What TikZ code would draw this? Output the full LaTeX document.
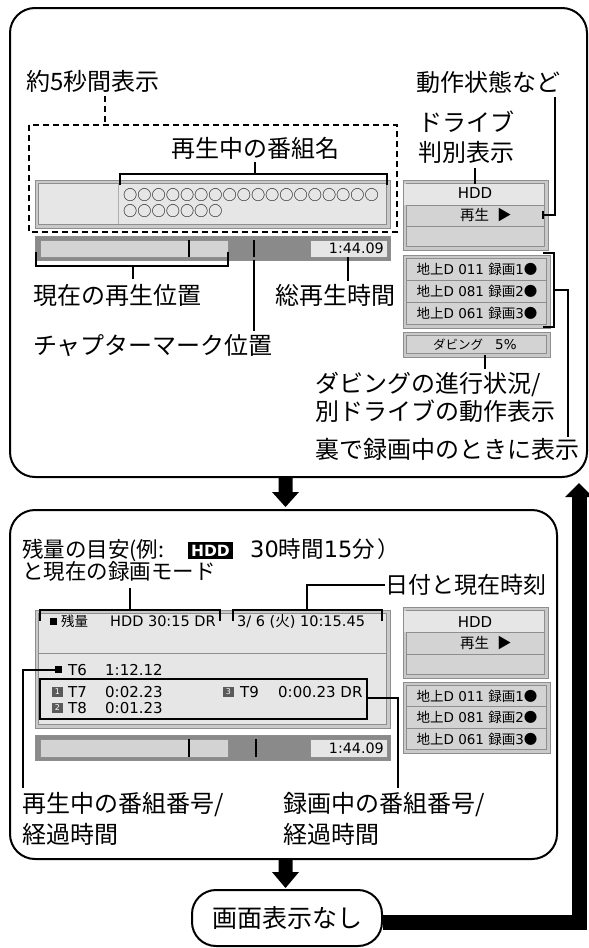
\documentclass[tikz,border=0pt]{standalone}
\usepackage{fontspec}
\setmainfont{Noto Sans CJK JP}
\newfontfamily\lat{DejaVu Sans}
\definecolor{bd}{HTML}{8E8E8E}
\definecolor{band}{HTML}{C9C9C9}
\definecolor{lt}{HTML}{E6E6E6}
\definecolor{md}{HTML}{D3D3D3}
\definecolor{dk}{HTML}{8A8A8A}
\definecolor{badgec}{HTML}{5A5A5A}
\newcommand\mybox[5]{%
  \draw[draw=bd, fill=band, line width=0.8pt] (#1,#2) rectangle (#3,#4);
  \draw[draw=bd, fill=#5, line width=0.8pt] ({#1+3.5},{#2+3.5}) rectangle ({#3-3.5},{#4-3.5});}
\tikzset{
  lbl/.style={inner sep=0pt, anchor=base west, font=\fontsize{24pt}{24pt}\selectfont},
  smj/.style={inner sep=0pt, font=\fontsize{13.5pt}{13.5pt}\selectfont},
  sml/.style={inner sep=0pt, font={\lat\fontsize{15pt}{15pt}\selectfont}},
  brk/.style={line width=2pt, line cap=butt, line join=miter},
  panel/.style={draw=black, line width=2pt, fill=white, rounded corners=25pt, inner sep=0pt},
  badge/.style={fill=badgec, text=white, inner sep=0pt, minimum width=11pt, minimum height=10pt, font={\lat\fontsize{8pt}{8pt}\selectfont}},
  sq/.style={fill=black, inner sep=0pt, minimum size=7pt},
}
\begin{document}
\begin{tikzpicture}[x=1pt,y=-1pt]
\useasboundingbox (0,0) rectangle (589,948);
\fill[white] (0,0) rectangle (589,948);

% ---------------- panels ----------------
\node[panel, minimum width=577pt, minimum height=469pt] (ptop) at (298.5,242.5) {};
\node[panel, minimum width=547pt, minimum height=349pt] (pbot) at (283.5,684.5) {};

% arrows between panels
\fill (278.5,477) -- (292.5,477) -- (292.5,492) -- (299,492) -- (285.5,507) -- (272,492) -- (278.5,492) -- cycle;
\fill (278.5,858) -- (292.5,858) -- (292.5,872) -- (299,872) -- (285.5,888) -- (272,872) -- (278.5,872) -- cycle;

\node[draw, line width=2pt, rounded corners=24pt, minimum width=190pt, minimum height=56pt, inner sep=0pt,
      font=\fontsize{25pt}{25pt}\selectfont, fill=white] (none) at (287,918) {画面表示なし};
\draw[line width=15pt, line join=miter] ([yshift=-4.5pt]none.east) -- (579,922.5) -- (579,496);
\fill (565,497) -- (579,483) -- (593,497) -- cycle;

% ---------------- top panel ----------------
\node[lbl] (l5s) at (26,90.1) {約5秒間表示};
\draw[line width=2pt, dash pattern=on 6pt off 4pt] (105,96) -- (105,125);
\draw[line width=2pt, dash pattern=on 6pt off 4pt] (29,125) rectangle (397,232);

\node[lbl, anchor=base] (lname) at (255,157.1) {再生中の番組名};
\mybox{35}{180}{390}{228}{lt}
\draw[draw=bd!70, line width=0.8pt] (118,184) -- (118,224);
\node[inner sep=0pt, anchor=base west, font=\fontsize{14.2pt}{14.2pt}\selectfont] (c1) at (123,200.4) {○○○○○○○○○○○○○○○○○○};
\node[inner sep=0pt, anchor=base west, font=\fontsize{14.2pt}{14.2pt}\selectfont] (c2) at (123,216.9) {○○○○○○○};
\draw[brk] (120,185) -- (120,174) -- (387,174) -- (387,185);
\draw[brk] (255,174) -- (lname.south |- 0,162);

% progress bar top
\draw[draw=bd, fill=dk, line width=0.8pt] (35,236) rectangle (390,260);
\draw[draw=bd, fill=md, line width=0.5pt] (40,240) rectangle (228,257);
\draw[draw=bd, fill=lt, line width=0.5pt] (310,240) rectangle (387,257);
\draw[line width=2pt] (189,240) -- (189,257);
\draw[line width=2pt] (254,240) -- (254,257);
\node[inner sep=0pt, anchor=base east, font={\lat\fontsize{14.3pt}{14.3pt}\selectfont}] (tt1) at (384,253.7) {1:44.09};

\node[lbl] (lpos) at (33,304.1) {現在の再生位置};
\node[lbl] (ltot) at (275,304.1) {総再生時間};
\node[lbl] (lchap) at (33,354.1) {チャプターマーク位置};
\draw[brk] (36,252) -- (36,266) -- (228,266) -- (228,252);
\draw[brk] (133,266) -- (133,279);
\draw[brk] (348,257) -- (348,281);
\draw[brk] (254,260) -- (254,331);

% status box top
\node[lbl] (lstat) at (416,91.1) {動作状態など};
\node[lbl] (ldrv1) at (418,131.1) {ドライブ};
\node[lbl] (ldrv2) at (418,161.1) {判別表示};
\mybox{403}{180}{548}{250}{md}
\fill[lt] (404,184) rectangle (544,205);
\draw[draw=bd, line width=0.8pt] (406.5,205) -- (544.5,205);
\draw[draw=bd, line width=0.8pt] (406.5,226) -- (544.5,226);
\node[inner sep=0pt, anchor=base, font={\lat\fontsize{15pt}{15pt}\selectfont}] (hdd1) at (475,198.5) {HDD};
\node[inner sep=0pt, anchor=base west, font=\fontsize{14.5pt}{14.5pt}\selectfont] (play1) at (460,220.5) {再生\hspace{8pt}▶};
\draw[brk] (475,168) -- (475,184);
\draw[brk] (555,97) -- (555,215) -- (543,215);
\draw[brk] (543,211) -- (543,219);

% channel box top
\mybox{403}{255}{550}{328}{md}
\draw[draw=bd, line width=0.8pt] (406.5,280.5) -- (546.5,280.5);
\draw[draw=bd, line width=0.8pt] (406.5,302.5) -- (546.5,302.5);
\node[smj, anchor=base] (ch1) at (477,274.6) {地上{\lat D 011 }録画{\lat 1}●};
\node[smj, anchor=base] (ch2) at (477,296.6) {地上{\lat D 081 }録画{\lat 2}●};
\node[smj, anchor=base] (ch3) at (477,318.6) {地上{\lat D 061 }録画{\lat 3}●};
\draw[brk] (543,253) -- (554,253) -- (554,327) -- (543,327);
\draw[brk] (554,290) -- (568,290) -- (568,437);

% dubbing box
\mybox{403}{332}{550}{357}{md}
\node[inner sep=0pt, anchor=base west, font=\fontsize{12.5pt}{12.5pt}\selectfont] (dub) at (433,349.6) {ダビング\hspace{12pt}{\lat\fontsize{13.5pt}{13.5pt}\selectfont 5\%}};
\draw[brk] (485,355) -- (485,369);
\node[lbl] (ldub1) at (315,392.1) {ダビングの進行状況/};
\node[lbl] (ldub2) at (315,420.1) {別ドライブの動作表示};
\node[lbl] (lrec) at (315,458.1) {裏で録画中のときに表示};

% ---------------- bottom panel ----------------
\node[inner sep=0pt, anchor=base west, font=\fontsize{21.5pt}{21.5pt}\selectfont] (zr1) at (22,557) {残量の目安(例:};
\node[fill=black, text=white, inner sep=0pt, minimum width=45pt, minimum height=17pt, font={\lat\bfseries\fontsize{15.5pt}{15.5pt}\selectfont}] (hddb) at (210.5,550.5) {HDD};
\node[inner sep=0pt, anchor=base west, font=\fontsize{22.5pt}{22.5pt}\selectfont] (zr2) at (250,557.5) {{\lat 30}時間{\lat 15}分};
\node[inner sep=0pt, anchor=base west, font=\fontsize{22pt}{22pt}\selectfont] (zr3) at (377,557.5) {）};
\node[inner sep=0pt, anchor=base west, font=\fontsize{21.5pt}{21.5pt}\selectfont] (zr4) at (22,579) {と現在の録画モード};
\node[inner sep=0pt, anchor=base west, font=\fontsize{23pt}{23pt}\selectfont] (ldate) at (385,593.7) {日付と現在時刻};

% main display box
\mybox{35}{610}{390}{728}{lt}
\draw[draw=bd, line width=0.8pt] (38.5,653) -- (386.5,653);
\node[sq] (sq1) at (53.5,621.5) {};
\node[smj, anchor=base west] (zan) at (61,626.6) {残量};
\node[inner sep=0pt, anchor=base west, font={\lat\fontsize{14.5pt}{14.5pt}\selectfont}] (hddr) at (110,626.8) {HDD 30:15 DR};
\node[inner sep=0pt, anchor=base west, font={\lat\fontsize{14.5pt}{14.5pt}\selectfont}] (date) at (237,626.8) {3/ 6 ({\rmfamily 火}) 10:15.45};
\draw[brk] (40,621) -- (40,610) -- (220,610) -- (220,621);
\draw[brk] (130,610) -- (130,588);
\draw[brk] (233,621) -- (233,610) -- (382,610) -- (382,621);
\draw[brk] (307,610) -- (307,585) -- (ldate.west |- 0,585);

\node[sq] (sq2) at (58.5,669.5) {};
\node[sml, anchor=base west] (t6) at (68,675) {T6};
\node[sml, anchor=base west] (t6t) at (105,675) {1:12.12};
\draw[line width=2pt, fill=lt] (40,679) rectangle (367,719);
\node[badge] (b1) at (57.5,691.5) {1};
\node[sml, anchor=base west] (t7) at (68,697) {T7};
\node[sml, anchor=base west] (t7t) at (105,697) {0:02.23};
\node[badge] (b3) at (228.5,691.5) {3};
\node[sml, anchor=base west] (t9) at (240,697) {T9};
\node[sml, anchor=base west] (t9t) at (278,697) {0:00.23 DR};
\node[badge] (b2) at (57.5,708) {2};
\node[sml, anchor=base west] (t8) at (68,713) {T8};
\node[sml, anchor=base west] (t8t) at (105,713) {0:01.23};

% progress bar bottom
\draw[draw=bd, fill=dk, line width=0.8pt] (35,735) rectangle (390,760);
\draw[draw=bd, fill=md, line width=0.5pt] (40,739) rectangle (228,757);
\draw[draw=bd, fill=lt, line width=0.5pt] (310,739) rectangle (387,757);
\draw[line width=2pt] (189,739) -- (189,757);
\draw[line width=2pt] (256,739) -- (256,757);
\node[inner sep=0pt, anchor=base east, font={\lat\fontsize{14.3pt}{14.3pt}\selectfont}] (tt2) at (384,753.2) {1:44.09};

% status box bottom
\mybox{403}{607}{548}{678}{md}
\fill[lt] (404,611) rectangle (544,632);
\draw[draw=bd, line width=0.8pt] (406.5,632) -- (544.5,632);
\draw[draw=bd, line width=0.8pt] (406.5,654) -- (544.5,654);
\node[inner sep=0pt, anchor=base, font={\lat\fontsize{15pt}{15pt}\selectfont}] (hdd2) at (475,627) {HDD};
\node[inner sep=0pt, anchor=base west, font=\fontsize{14.5pt}{14.5pt}\selectfont] (play2) at (460,648.5) {再生\hspace{8pt}▶};

% channel box bottom
\mybox{403}{682}{550}{753}{md}
\draw[draw=bd, line width=0.8pt] (406.5,706.8) -- (546.5,706.8);
\draw[draw=bd, line width=0.8pt] (406.5,728.2) -- (546.5,728.2);
\node[smj, anchor=base] (ch4) at (477,701.1) {地上{\lat D 011 }録画{\lat 1}●};
\node[smj, anchor=base] (ch5) at (477,722.6) {地上{\lat D 081 }録画{\lat 2}●};
\node[smj, anchor=base] (ch6) at (477,744.1) {地上{\lat D 061 }録画{\lat 3}●};

% bottom labels
\node[lbl] (lpn1) at (22,812.1) {再生中の番組番号/};
\node[lbl] (lpn2) at (22,843.1) {経過時間};
\node[lbl] (lrn1) at (283,812.1) {録画中の番組番号/};
\node[lbl] (lrn2) at (283,843.1) {経過時間};
\draw[brk] (sq2.west) -- (23,669.5) -- (23,788);
\draw[brk] (367,698) -- (398,698) -- (398,788);

\end{tikzpicture}
\end{document}
